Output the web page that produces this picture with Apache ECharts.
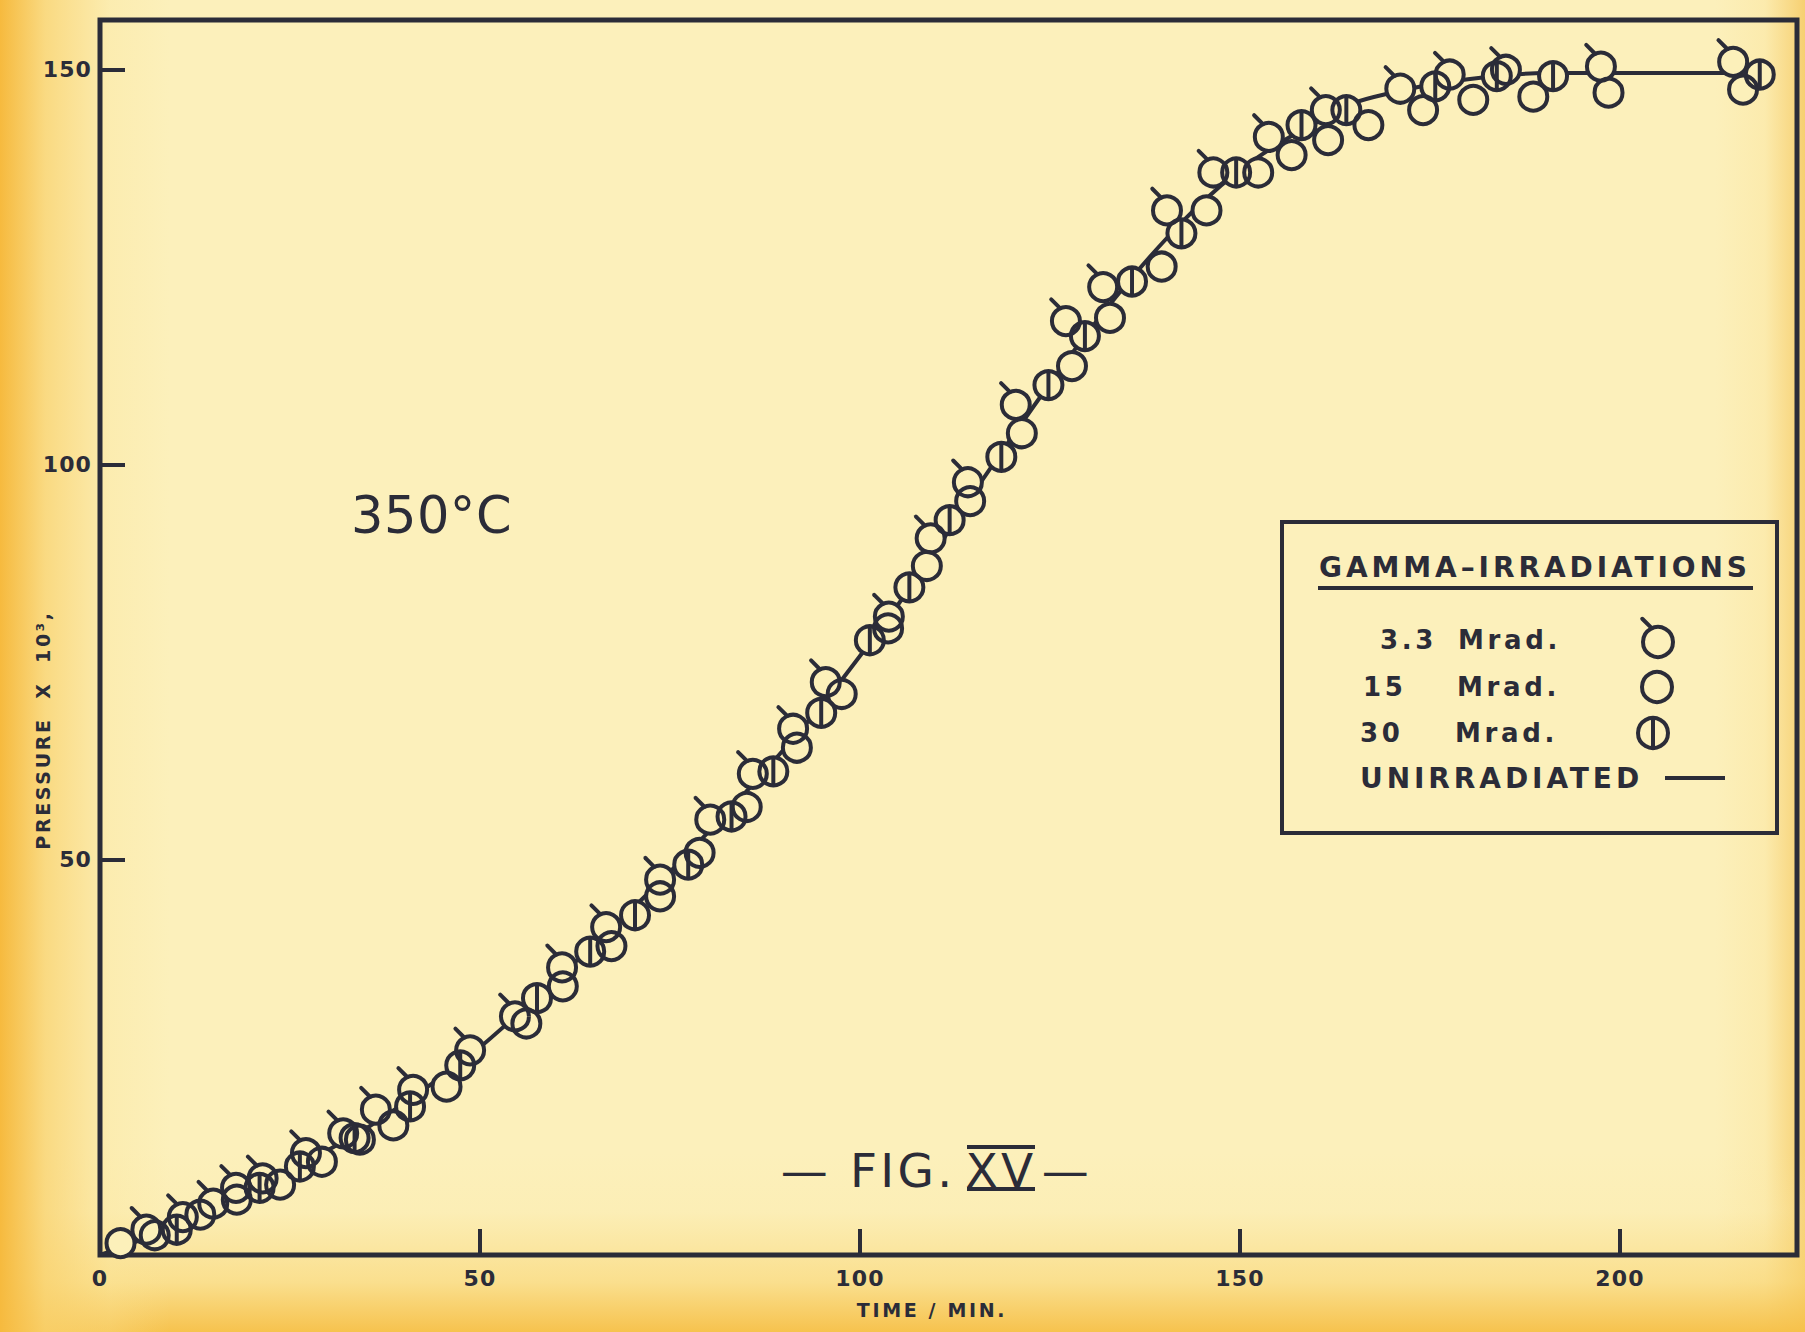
<!DOCTYPE html>
<html>
<head>
<meta charset="utf-8">
<script src="https://cdn.jsdelivr.net/npm/echarts@6/dist/echarts.min.js"></script>
<style>
html,body{margin:0;padding:0;}
body{width:1805px;height:1332px;overflow:hidden;background:
 linear-gradient(to right, rgba(246,186,62,1) 0px, rgba(249,210,110,0.75) 45px, rgba(251,228,150,0.3) 110px, rgba(252,239,185,0) 170px),
 linear-gradient(to top, rgba(246,192,72,0.95) 0px, rgba(249,212,112,0.6) 50px, rgba(251,230,160,0.2) 120px, rgba(252,239,185,0) 180px),
 linear-gradient(to left, rgba(245,200,95,0.8) 0px, rgba(250,222,140,0.3) 40px, rgba(252,239,185,0) 90px),
 #fcf0bb;}
#main{width:1805px;height:1332px;}
#main text{letter-spacing:0.14em;}
#main text[style*="51px"]{letter-spacing:0.01em;}
#main text[style*="47px"]{letter-spacing:0.07em;}
#main text[style*="22px"]{letter-spacing:0.05em;}
</style>
</head>
<body>
<div id="main"></div>
<script>
// ---- data (time in min, pressure x 10^3) ----
const mrad33 = [[6.1,3.2],[10.9,4.8],[14.9,6.5],[17.9,8.5],[21.4,9.7],[27.1,12.9],[32.0,15.4],[36.3,18.4],[41.2,20.9],[48.7,25.9],[54.6,30.2],[60.8,36.4],[66.6,41.5],[73.7,47.5],[80.3,55.1],[85.9,60.9],[91.2,66.6],[95.5,72.5],[103.8,80.8],[109.3,90.7],[114.2,97.8],[120.5,107.6],[127.1,118.2],[132.0,122.5],[140.4,132.2],[146.5,137.0],[153.8,141.5],[161.3,144.9],[171.1,147.6],[177.6,149.4],[185.0,150.0],[197.5,150.4],[214.9,151.0]];
const mrad15 = [[2.7,1.5],[7.2,2.5],[13.2,5.1],[18.0,7.0],[23.7,8.9],[29.2,11.8],[34.2,14.6],[38.6,16.4],[45.6,21.3],[56.1,29.3],[60.9,34.0],[67.3,39.1],[73.7,45.4],[78.9,50.9],[85.1,56.7],[91.7,64.2],[97.6,71.0],[103.7,79.3],[108.8,87.2],[114.5,95.4],[121.3,104.0],[127.9,112.5],[132.9,118.6],[139.7,125.1],[145.6,132.2],[152.4,137.0],[156.8,139.2],[161.6,141.1],[166.9,143.0],[174.1,144.9],[180.7,146.2],[188.6,146.6],[198.5,147.1],[216.2,147.5]];
const mrad30 = [[10.1,3.2],[21.0,8.5],[26.3,11.2],[33.5,14.8],[40.8,18.8],[47.4,24.0],[57.5,32.5],[64.5,38.4],[70.4,43.0],[77.4,49.4],[83.1,55.5],[88.6,61.2],[94.9,68.6],[101.3,77.8],[106.5,84.5],[111.8,93.0],[118.6,101.0],[124.8,110.1],[129.6,116.3],[135.8,123.2],[142.3,129.3],[149.5,137.0],[158.1,143.0],[164.0,144.9],[175.7,147.9],[183.8,149.2],[191.2,149.2],[218.4,149.4]];
const unirradiated = [[0,0],[5,1.8],[10,3.9],[15,6.0],[20,8.2],[25,10.7],[30,13.3],[35,16.0],[40,19.2],[45,22.6],[50,26.3],[55,30.5],[60,34.8],[65,39.3],[70,43.8],[75,48.5],[80,53.5],[85,58.6],[90,64.0],[95,69.6],[100,75.8],[105,82.3],[110,89.2],[115,96.5],[120,103.5],[125,110.3],[130,116.8],[135,122.8],[140,128.3],[145,133.2],[150,137.3],[155,140.6],[160,143.3],[165,145.8],[170,147.1],[175,148.1],[180,148.8],[185,149.3],[190,149.6],[200,149.6],[216,149.6]];
const legendLabels = ['3.3', '15', '30'];
const legendKinds = ['flag', 'plain', 'bar'];

// ---- style ----
const INK = '#2b2c38';
const PAPER = '#fcf0ba';
const FONT = '"DejaVu Sans", sans-serif';
const R = 14, LW = 4;

function markerShapes(cx, cy, r, kind, lw) {
  const out = [{type:'circle', shape:{cx:cx, cy:cy, r:r}, style:{fill:'none', stroke:INK, lineWidth:lw}}];
  if (kind === 'flag') out.push({type:'line', shape:{x1:cx-0.42*r, y1:cy-0.92*r, x2:cx-1.05*r, y2:cy-1.55*r}, style:{stroke:INK, lineWidth:lw, lineCap:'round'}});
  if (kind === 'bar') out.push({type:'line', shape:{x1:cx, y1:cy-r, x2:cx, y2:cy+r}, style:{stroke:INK, lineWidth:lw}});
  return out;
}
function maskSeries(name, data) {
  return {type:'custom', name:name+' mask', data:data, z:3, silent:true, encode:{x:0,y:1},
    renderItem:function(p, api){ const c = api.coord([api.value(0), api.value(1)]);
      return {type:'circle', shape:{cx:c[0], cy:c[1], r:R}, style:{fill:PAPER, stroke:null}}; }};
}
function markSeries(name, data, kind) {
  return {type:'custom', name:name, data:data, z:4, silent:true, encode:{x:0,y:1},
    renderItem:function(p, api){ const c = api.coord([api.value(0), api.value(1)]);
      return {type:'group', children: markerShapes(c[0], c[1], R, kind, LW)}; }};
}
function txt(x, y, text, size, align, weight, extra) {
  return Object.assign({type:'text', x:x, y:y, style:{text:text, fontSize:size, fontFamily:FONT, fontWeight:weight, fill:INK,
    align:align, verticalAlign:'middle', textAlign:align, textVerticalAlign:'middle'}}, extra || {});
}

const graphics = [
  txt(43, 730, 'PRESSURE\u00a0\u00a0X\u00a0\u00a010³,', 19, 'center', 'bold', {rotation: Math.PI/2}),
  txt(932, 1310, 'TIME / MIN.', 19, 'center', 'bold'),
  txt(351, 515, '350°C', 51, 'left', 'normal'),
  txt(806, 1170, '—', 47, 'center', 'normal'),
  txt(850, 1170, 'FIG.', 47, 'left', 'normal'),
  txt(1001, 1170, 'XV', 47, 'center', 'normal'),
  {type:'line', shape:{x1:967, y1:1147, x2:1035, y2:1147}, style:{stroke:INK, lineWidth:4}},
  {type:'line', shape:{x1:967, y1:1189, x2:1035, y2:1189}, style:{stroke:INK, lineWidth:4}},
  txt(1067, 1170, '—', 47, 'center', 'normal'),
  // legend box
  {type:'rect', shape:{x:1282, y:522, width:495, height:311}, style:{fill:'none', stroke:INK, lineWidth:4}},
  txt(1535, 567, 'GAMMA–IRRADIATIONS', 28, 'center', 'bold'),
  {type:'line', shape:{x1:1318, y1:588, x2:1753, y2:588}, style:{stroke:INK, lineWidth:4}},
  txt(1380, 640, legendLabels[0], 26, 'left', 'bold'),
  txt(1458, 640, 'Mrad.', 26, 'left', 'bold'),
  txt(1363, 687, legendLabels[1], 26, 'left', 'bold'),
  txt(1457, 687, 'Mrad.', 26, 'left', 'bold'),
  txt(1360, 733, legendLabels[2], 26, 'left', 'bold'),
  txt(1455, 733, 'Mrad.', 26, 'left', 'bold'),
  txt(1360, 778, 'UNIRRADIATED', 28, 'left', 'bold'),
  {type:'line', shape:{x1:1665, y1:778, x2:1725, y2:778}, style:{stroke:INK, lineWidth:4}}
].concat(markerShapes(1658, 642, 15, legendKinds[0], 4))
 .concat(markerShapes(1657, 687, 15, legendKinds[1], 4))
 .concat(markerShapes(1653, 733, 15, legendKinds[2], 4));

const chart = echarts.init(document.getElementById('main'), null, {renderer:'svg'});
chart.setOption({
  animation:false,
  backgroundColor:'transparent',
  textStyle:{fontFamily:FONT, color:INK},
  grid:{left:100, right:8, top:20, bottom:77, show:true, borderColor:INK, borderWidth:5, backgroundColor:'transparent'},
  xAxis:{type:'value', min:0, max:223.3, interval:50,
    axisLine:{show:false}, splitLine:{show:false},
    axisTick:{show:true, inside:true, length:26, lineStyle:{color:INK, width:4}},
    axisLabel:{color:INK, fontSize:22, fontWeight:'bold', margin:12, fontFamily:FONT, showMaxLabel:false,
      formatter:function(v){return v % 50 === 0 ? String(v) : '';}}},
  yAxis:{type:'value', min:0, max:156.3, interval:50,
    axisLine:{show:false}, splitLine:{show:false},
    axisTick:{show:true, inside:true, length:25, lineStyle:{color:INK, width:4}},
    axisLabel:{color:INK, fontSize:22, fontWeight:'bold', margin:8, fontFamily:FONT, showMaxLabel:false,
      formatter:function(v){return (v === 0 || v % 50 !== 0) ? '' : String(v);}}},
  series:[
    {type:'line', name:'UNIRRADIATED', data:unirradiated, symbol:'none', smooth:0.3, lineStyle:{color:INK, width:4}, z:2, silent:true},
    maskSeries('3.3 Mrad.', mrad33), maskSeries('15 Mrad.', mrad15), maskSeries('30 Mrad.', mrad30),
    markSeries('3.3 Mrad.', mrad33, 'flag'), markSeries('15 Mrad.', mrad15, 'plain'), markSeries('30 Mrad.', mrad30, 'bar')
  ],
  graphic:{elements:graphics}
});
</script>
</body>
</html>
